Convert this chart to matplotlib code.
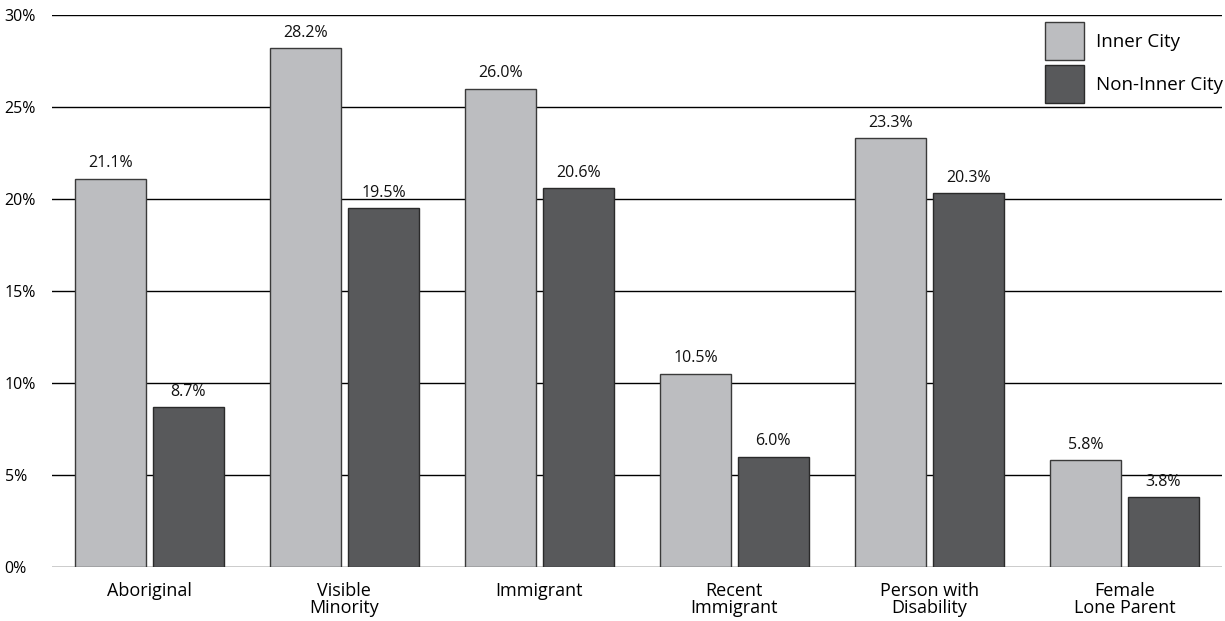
import numpy as np
import matplotlib.pyplot as plt

categories = ['Aboriginal', 'Visible\nMinority', 'Immigrant', 'Recent\nImmigrant',
              'Person with\nDisability', 'Female\nLone Parent']
inner_city = [21.1, 28.2, 26.0, 10.5, 23.3, 5.8]
non_inner_city = [8.7, 19.5, 20.6, 6.0, 20.3, 3.8]

plt.rcParams['font.family'] = ['Open Sans', 'DejaVu Sans']

fig = plt.figure(figsize=(12.25, 6.21), dpi=100)
ax = fig.add_axes([0.0424, 0.087, 0.955, 0.889])

x = np.arange(len(categories))
w = 0.365
b1 = ax.bar(x - 0.2, inner_city, w, color='#bcbdc0', edgecolor='#3a3a3a',
            linewidth=1, label='Inner City', zorder=3)
b2 = ax.bar(x + 0.2, non_inner_city, w, color='#58595b', edgecolor='#2a2a2a',
            linewidth=1, label='Non-Inner City', zorder=3)

for bars, vals in [(b1, inner_city), (b2, non_inner_city)]:
    for rect, v in zip(bars, vals):
        ax.text(rect.get_x() + rect.get_width() / 2, v + 0.4, f'{v:.1f}%',
                ha='center', va='bottom', fontsize=11.5, color='#111111')

ax.set_xlim(-0.5, len(categories) - 0.5)
ax.set_ylim(0, 30)
ax.set_yticks(range(0, 31, 5))
ax.set_yticklabels([f'{t}%' for t in range(0, 31, 5)])
ax.set_xticks(x)
ax.set_xticklabels(categories, fontsize=13, linespacing=0.88)
ax.tick_params(axis='y', length=0, pad=0, labelsize=11.5)
ax.tick_params(axis='x', length=0, pad=11)
for lbl in ax.get_yticklabels():
    lbl.set_horizontalalignment('left')
    lbl.set_x(-0.0424 / 0.955 + 0.004)

ax.grid(axis='y', color='black', linewidth=1, zorder=1)
for s in ax.spines.values():
    s.set_visible(False)

ax.legend(loc='upper right', bbox_to_anchor=(1.007, 1.0), frameon=False,
          fontsize=13.5, handlelength=2.08, handleheight=2.72,
          labelspacing=0.27, handletextpad=0.6, borderaxespad=0)

fig.savefig('out.png', dpi=100)
